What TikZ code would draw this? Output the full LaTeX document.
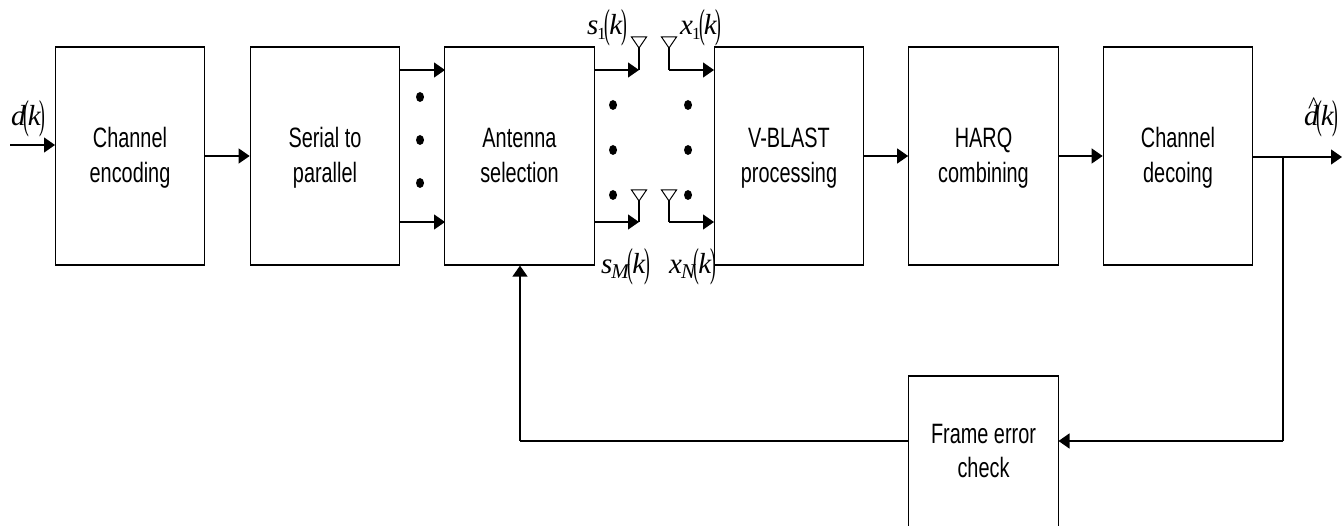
\documentclass[tikz,border=0pt]{standalone}
\usepackage{fontspec}
\setmainfont{Liberation Sans}
\newfontfamily\mathfnt{Liberation Serif}
\newfontfamily\boxfnt[FakeStretch=0.71]{Liberation Sans}
\usetikzlibrary{arrows.meta,calc}
\newcommand{\thinparen}[1]{\raisebox{-3pt}{\upshape\fontsize{28}{28}\selectfont\scalebox{0.62}[1.45]{#1}}}
\newcommand{\lbl}[3]{{\mathfnt\fontsize{29}{29}\selectfont\itshape #1\kern-1pt\raisebox{-5pt}{\fontsize{#3}{#3}\selectfont #2}\kern-1.5pt\thinparen{(}\kern-1pt k\kern-1pt\thinparen{)}}}
\newcommand{\tl}[2]{\rule{0pt}{26pt}#1\\#2\rule[-7pt]{0pt}{7pt}}
\tikzset{x=1pt,y=-1pt,
  blockbox/.style={draw=black,line width=1.2pt,minimum width=149.5pt,minimum height=218pt,align=center,inner sep=0pt,font=\boxfnt\fontsize{28}{35}\selectfont},
  wire/.style={line width=1.3pt},
  arr/.style={line width=1.3pt,-{Triangle[length=11pt,width=15pt]}},
  antenna/.style={draw=black,line width=1pt,fill=white},
  tag/.style={inner sep=0pt,anchor=base west}}
\begin{document}
\begin{tikzpicture}
\useasboundingbox (0,0) rectangle (1342,526);
\clip (0,0) rectangle (1342,526);
\node[blockbox] (enc) at (130,156) {\tl{Channel}{encoding}};
\node[blockbox] (ser) at (325,156) {\tl{Serial to}{parallel}};
\node[blockbox] (ant) at (519.5,156) {\tl{Antenna}{selection}};
\node[blockbox] (vb) at (789,156) {\tl{V-BLAST}{processing}};
\node[blockbox] (harq) at (983.5,156) {\tl{HARQ}{combining}};
\node[blockbox] (dec) at (1178,156) {\tl{Channel}{decoing}};
\node[blockbox,minimum height=170pt] (fec) at (983.5,461) {};
\node[align=center,inner sep=0pt,font=\boxfnt\fontsize{28}{34}\selectfont] (fect) at (983.5,451) {Frame error\\check};
% free ends
\coordinate (din) at (10,145);
\coordinate (dout) at (1342,157);
\coordinate (tap) at (1283,157);
\coordinate (enctap) at (55,145);
\coordinate (s1) at (445,70);
\coordinate (s2) at (445,222);
\coordinate (p1) at (400,70);
\coordinate (p2) at (400,222);
\coordinate (a1) at (594,70);
\coordinate (a2) at (594,222);
\coordinate (t1) at (639,70);
\coordinate (t2) at (639,222);
\coordinate (r1) at (669,70);
\coordinate (r2) at (669,222);
\coordinate (v1) at (714,70);
\coordinate (v2) at (714,222);
\coordinate (fecin) at (1058.5,441);
\coordinate (fecout) at (909,441);
\coordinate (corner) at (520,441);
\coordinate (decout) at (1253,157);
\draw[arr] (din) -- (enctap);
\draw[arr] (enc.east) -- (ser.west);
\draw[arr] (p1) -- (s1);
\draw[arr] (p2) -- (s2);
\draw[arr] (vb.east) -- (harq.west);
\draw[arr] (harq.east) -- (dec.west);
\draw[arr] (decout) -- (dout);
\draw[wire] (tap) -- (tap |- fecin);
\draw[arr] (tap |- fecin) -- (fecin);
\draw[wire] (fecout) -- (corner);
\draw[arr] (corner) -- (ant.south -| corner);
\draw[arr] (a1) -- (t1);
\draw[arr] (a2) -- (t2);
\draw[arr] (r1) -- (v1);
\draw[arr] (r2) -- (v2);
% antennas
\foreach \c/\ty in {t1/37,r1/37,t2/190,r2/190}{
  \draw[wire] (\c) -- (\c |- 0,\ty+10);
  \draw[antenna] ($(\c |- 0,\ty)+(-7.5,0)$) -- ($(\c |- 0,\ty)+(7.5,0)$) -- ($(\c |- 0,\ty)+(0,11)$) -- cycle;
}
% dots
\foreach \x/\y in {420/97,420/140,420/183,613/105,613/150,613/195,688/105,688/150,688/195}
  \fill (\x,\y) ellipse (4pt and 5pt);
% labels
\node[tag] (ld) at (11,126) {\lbl{d}{}{16}};
\node[tag] (ls1) at (587,35) {\lbl{s}{\upshape 1}{17}};
\node[tag] (lx1) at (680,35) {\lbl{x}{\upshape 1}{17}};
\node[tag] (lsm) at (601,274) {\lbl{s}{M}{21}};
\node[tag] (lxn) at (669,274) {\lbl{x}{N}{21}};
\node[tag] (ldh) at (1304,126) {\rlap{\kern4pt\raisebox{12pt}{\mathfnt\fontsize{24}{24}\selectfont\^{}}}\lbl{d}{}{16}};
\end{tikzpicture}
\end{document}
